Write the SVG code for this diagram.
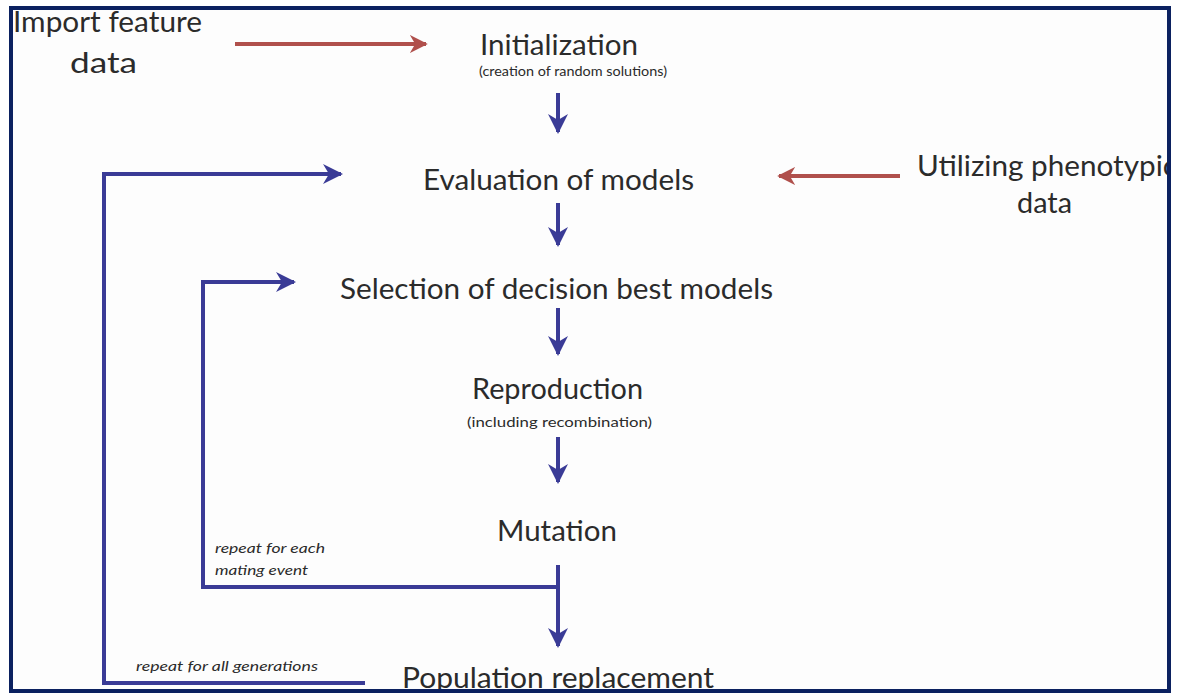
<svg xmlns="http://www.w3.org/2000/svg" width="1177" height="693" viewBox="0 0 1177 693">
<style>
.t{font-family:Lato,"Open Sans","Liberation Sans",sans-serif;fill:#2b2b2b;}
.big{font-size:29px;}
.sub{font-size:14px;}
.it{font-size:14px;font-style:italic;}
.blue{stroke:#3a3b96;stroke-width:4;fill:none;}
.red{stroke:#b0504c;stroke-width:4;fill:none;}
</style>
<defs>
<marker id="ab" viewBox="0 0 10 10" refX="9" refY="5" markerWidth="5" markerHeight="5" orient="auto" markerUnits="strokeWidth">
<path d="M0,0 L10,5 L0,10 L3,5 z" fill="#3a3b96"/>
</marker>
<marker id="ar" viewBox="0 0 10 10" refX="9" refY="5" markerWidth="4.5" markerHeight="4.5" orient="auto" markerUnits="strokeWidth">
<path d="M0,0 L10,5 L0,10 L3,5 z" fill="#b0504c"/>
</marker>
<clipPath id="frameclip"><rect x="11" y="8" width="1156" height="682"/></clipPath>
</defs>
<rect x="0" y="0" width="1177" height="693" fill="#ffffff"/>
<rect x="11" y="8" width="1158" height="683" fill="#fdfdfd"/>
<g id="connectors">
<path class="red" d="M235,44 H426" marker-end="url(#ar)"/>
<path class="red" d="M900,176 H779" marker-end="url(#ar)"/>
<path class="blue" d="M558,93 V132" marker-end="url(#ab)"/>
<path class="blue" d="M558,203 V245" marker-end="url(#ab)"/>
<path class="blue" d="M558,308 V354" marker-end="url(#ab)"/>
<path class="blue" d="M558,437 V482" marker-end="url(#ab)"/>
<path class="blue" d="M558,565 V646" marker-end="url(#ab)"/>
<path class="blue" d="M558,587 H203 V282 H294" marker-end="url(#ab)"/>
<path class="blue" d="M365,683 H104 V174 H341" marker-end="url(#ab)"/>
</g>
<g id="import" class="t big">
<text x="13" y="32" textLength="189" lengthAdjust="spacingAndGlyphs">Import feature</text>
<text x="70" y="73" textLength="67" lengthAdjust="spacingAndGlyphs">data</text>
</g>
<g id="initialization" class="t">
<text class="big" x="480" y="55" textLength="158" lengthAdjust="spacingAndGlyphs">Initialization</text>
<text class="sub" x="479" y="76" textLength="188" lengthAdjust="spacingAndGlyphs">(creation of random solutions)</text>
</g>
<g id="evaluation" class="t big">
<text x="423" y="190" textLength="271" lengthAdjust="spacingAndGlyphs">Evaluation of models</text>
</g>
<g id="phenotypic" class="t big" clip-path="url(#frameclip)">
<text x="917" y="176" textLength="260" lengthAdjust="spacingAndGlyphs">Utilizing phenotypic</text>
<text x="1017" y="213" textLength="55" lengthAdjust="spacingAndGlyphs">data</text>
</g>
<g id="selection" class="t big">
<text x="340" y="299" textLength="433" lengthAdjust="spacingAndGlyphs">Selection of decision best models</text>
</g>
<g id="reproduction" class="t">
<text class="big" x="472" y="399" textLength="171" lengthAdjust="spacingAndGlyphs">Reproduction</text>
<text class="sub" x="467" y="427" textLength="185" lengthAdjust="spacingAndGlyphs">(including recombination)</text>
</g>
<g id="mutation" class="t big">
<text x="497" y="541" textLength="120" lengthAdjust="spacingAndGlyphs">Mutation</text>
</g>
<g id="repeat-mating" class="t it">
<text x="215" y="553" textLength="110" lengthAdjust="spacingAndGlyphs">repeat for each</text>
<text x="215" y="575" textLength="93" lengthAdjust="spacingAndGlyphs">mating event</text>
</g>
<g id="repeat-generations" class="t it">
<text x="136" y="671" textLength="182" lengthAdjust="spacingAndGlyphs">repeat for all generations</text>
</g>
<g id="population" class="t big" clip-path="url(#frameclip)">
<text x="402" y="688" textLength="312" lengthAdjust="spacingAndGlyphs">Population replacement</text>
</g>
<rect x="11" y="8" width="1158" height="683" fill="none" stroke="#0b2160" stroke-width="4"/>
</svg>
